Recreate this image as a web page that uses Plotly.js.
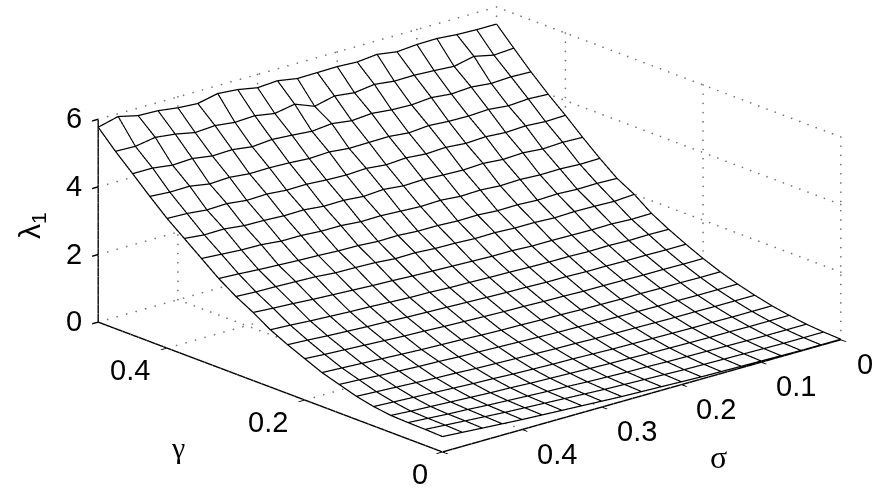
<!DOCTYPE html>
<html><head><meta charset="utf-8">
<script src="https://cdn.plot.ly/plotly-3.0.1.min.js"></script>
<style>html,body{margin:0;padding:0;background:#fff}#c{width:883px;height:490px}</style>
</head><body><div id="c"></div>
<script>
const sigmaValues=[0,.025,.05,.075,.1,.125,.15,.175,.2,.225,.25,.275,.3,.325,.35,.375,.4,.425,.45,.475,.5];
const gammaValues=[0,.025,.05,.075,.1,.125,.15,.175,.2,.225,.25,.275,.3,.325,.35,.375,.4,.425,.45,.475,.5];
const lambda1=[
[0,0,0,.01,.02,.03,.04,.05,.07,.09,.11,.13,.16,.19,.22,.25,.28,.32,.36,.40,.44],
[.02,.02,.02,.03,.04,.05,.06,.07,.09,.11,.13,.15,.18,.21,.24,.27,.30,.34,.38,.42,.46],
[.06,.06,.06,.07,.08,.09,.10,.11,.13,.14,.16,.18,.21,.23,.26,.29,.32,.36,.39,.43,.47],
[.13,.13,.13,.14,.14,.15,.16,.17,.19,.20,.22,.24,.26,.28,.31,.33,.36,.39,.42,.45,.49],
[.22,.22,.22,.23,.23,.24,.25,.26,.27,.29,.31,.32,.34,.36,.39,.41,.44,.47,.50,.53,.56],
[.34,.34,.34,.35,.35,.36,.37,.38,.39,.41,.42,.44,.46,.48,.50,.53,.55,.58,.61,.64,.67],
[.48,.48,.48,.49,.49,.50,.51,.52,.54,.55,.57,.59,.61,.63,.65,.68,.70,.73,.76,.80,.83],
[.65,.65,.66,.66,.67,.67,.68,.69,.71,.72,.74,.75,.77,.80,.82,.84,.87,.90,.93,.96,.99],
[.85,.85,.86,.86,.87,.88,.88,.90,.91,.93,.94,.96,.98,1.00,1.03,1.05,1.08,1.11,1.14,1.17,1.21],
[1.08,1.08,1.09,1.09,1.10,1.10,1.12,1.12,1.14,1.15,1.17,1.19,1.21,1.23,1.25,1.28,1.30,1.33,1.36,1.40,1.43],
[1.33,1.34,1.33,1.35,1.34,1.36,1.36,1.37,1.39,1.40,1.42,1.43,1.46,1.47,1.50,1.53,1.55,1.58,1.61,1.65,1.68],
[1.61,1.60,1.63,1.62,1.63,1.64,1.64,1.67,1.67,1.69,1.71,1.73,1.75,1.78,1.80,1.83,1.86,1.89,1.93,1.96,2.00],
[1.98,1.94,1.96,1.97,1.95,1.98,1.98,2.01,2.00,2.03,2.04,2.08,2.07,2.12,2.14,2.15,2.20,2.22,2.24,2.25,2.28],
[2.26,2.28,2.27,2.30,2.28,2.31,2.30,2.34,2.33,2.36,2.36,2.40,2.39,2.43,2.44,2.47,2.49,2.52,2.55,2.59,2.62],
[2.66,2.65,2.68,2.67,2.70,2.68,2.72,2.70,2.75,2.73,2.76,2.79,2.78,2.83,2.83,2.87,2.87,2.93,2.94,2.98,3.02],
[3.09,3.11,3.08,3.13,3.10,3.15,3.12,3.14,3.17,3.15,3.21,3.17,3.22,3.21,3.27,3.26,3.29,3.30,3.37,3.36,3.42],
[3.55,3.53,3.57,3.54,3.58,3.55,3.60,3.57,3.62,3.58,3.64,3.61,3.63,3.67,3.66,3.71,3.69,3.76,3.74,3.80,3.82],
[3.98,4.01,3.97,4.03,4.00,4.01,4.05,4.00,4.06,4.05,4.04,4.10,4.07,4.11,4.13,4.12,4.18,4.15,4.25,4.24,4.28],
[4.45,4.47,4.44,4.50,4.46,4.52,4.47,4.49,4.55,4.50,4.58,4.52,4.57,4.61,4.56,4.64,4.62,4.71,4.68,4.76,4.76],
[4.96,4.92,5.05,4.92,4.96,4.99,4.98,5.05,4.97,5.04,4.90,5.13,5.02,5.12,5.09,5.16,5.12,5.24,5.31,5.21,5.23],
[5.48,5.48,5.50,5.55,5.54,5.49,5.58,5.52,5.55,5.54,5.53,5.63,5.59,5.70,5.75,5.62,5.66,5.74,5.76,5.90,5.75]
];
const sigmaTicks=[0,.1,.2,.3,.4,.5], sigmaLabels=['0','0.1','0.2','0.3','0.4',''];
const gammaTicks=[0,.2,.4], gammaLabels=['0','0.2','0.4'];
const zTicks=[0,2,4,6], zLabels=['0','2','4','6'];

const gx=[],gy=[],gz=[];
function seg(a,b,n){for(let i=0;i<=n;i++){const t=i/n;gx.push(a[0]+(b[0]-a[0])*t);gy.push(a[1]+(b[1]-a[1])*t);gz.push(a[2]+(b[2]-a[2])*t);}}
for(const s of sigmaTicks){seg([.5,s,0],[.5,s,6],22);seg([0,s,0],[.5,s,0],42);}
for(const g of gammaTicks){seg([g,0,0],[g,0,6],22);seg([g,0,0],[g,.5,0],42);}
for(const z of zTicks){seg([.5,0,z],[.5,.5,z],42);seg([0,0,z],[.5,0,z],42);}

// mesh lines: the table's rows and columns, lifted a hair so the white surface does not hide them
const lift=0.015;
const mx=[],my=[],mz=[];
gammaValues.forEach((g,i)=>{sigmaValues.forEach((s,k)=>{mx.push(g);my.push(s);mz.push(lambda1[i][k]+lift);});mx.push(null);my.push(null);mz.push(null);});
sigmaValues.forEach((s,k)=>{gammaValues.forEach((g,i)=>{mx.push(g);my.push(s);mz.push(lambda1[i][k]+lift);});mx.push(null);my.push(null);mz.push(null);});

const axis=(vals,rng)=>({range:rng,tickmode:'array',tickvals:vals,showticklabels:false,showgrid:false,zeroline:false,
 showline:true,linecolor:'#000',linewidth:3,ticks:'outside',ticklen:8,tickwidth:3,tickcolor:'#000',showbackground:false,showspikes:false,title:{text:''}});

const white=[[0,'#fff'],[1,'#fff']];
const data=[
 {type:'scatter3d',mode:'markers',x:gx,y:gy,z:gz,marker:{color:'#777',size:1,line:{width:0}},hoverinfo:'skip',showlegend:false},
 {type:'surface',x:gammaValues,y:sigmaValues,z:sigmaValues.map((_,k)=>gammaValues.map((_,i)=>lambda1[i][k])),showscale:false,colorscale:white,cmin:0,cmax:1,surfacecolor:sigmaValues.map(()=>gammaValues.map(()=>0.5)),
  lighting:{ambient:1,diffuse:0,specular:0,fresnel:0,roughness:1},hoverinfo:'skip',
  contours:{x:{show:false,highlight:false},y:{show:false,highlight:false},z:{show:false,highlight:false}}},
 {type:'scatter3d',mode:'lines',x:mx,y:my,z:mz,connectgaps:false,line:{color:'#000',width:2.5},hoverinfo:'skip',showlegend:false}
];
const tf={family:'Liberation Sans',size:29,color:'#000'};
const note=(x,y,z,text,xshift,yshift)=>({x,y,z,text,xshift,yshift,showarrow:false,xanchor:'center',yanchor:'middle',font:tf});
const sceneNotes=[
 ...gammaTicks.map((g,i)=>note(g,0.5,0,gammaLabels[i],g===0?-22:-37,-22)),
 ...sigmaTicks.filter((_,i)=>sigmaLabels[i]).map((s,i)=>note(0,s,0,sigmaLabels[i],s===0?24:35,-24)),
 ...zTicks.map((z,i)=>note(.5,.5,z,zLabels[i],-24,1))
];
const layout={width:883,height:490,margin:{l:0,r:0,t:0,b:0},paper_bgcolor:'#fff',showlegend:false,
 scene:{domain:{x:[.0634,1],y:[.0632,1]},
  xaxis:axis(gammaTicks,[0,.5]),yaxis:axis(sigmaTicks,[0,.5]),zaxis:axis(zTicks,[0,6]),
  aspectmode:'manual',aspectratio:{x:2.294,y:2.294,z:.935},annotations:sceneNotes,
  camera:{projection:{type:'orthographic'},up:{x:0,y:0,z:1},center:{x:0,y:0,z:0},eye:{x:-2.86,y:2.472,z:1.304}}},
 annotations:[
  {xref:'paper',yref:'paper',x:178/883,y:1-447/490,text:'γ',showarrow:false,xanchor:'center',yanchor:'middle',font:{family:'Liberation Serif',size:30,color:'#000'}},
  {xref:'paper',yref:'paper',x:718/883,y:1-457/490,text:'σ',showarrow:false,xanchor:'center',yanchor:'middle',font:{family:'Liberation Serif',size:32,color:'#000'}},
  {xref:'paper',yref:'paper',x:31/883,y:1-226/490,text:'λ<sub>1</sub>',textangle:-90,showarrow:false,xanchor:'center',yanchor:'middle',font:{family:'Liberation Sans',size:30,color:'#000'}}
 ]};
Plotly.newPlot('c',data,layout,{displayModeBar:false});
</script></body></html>
